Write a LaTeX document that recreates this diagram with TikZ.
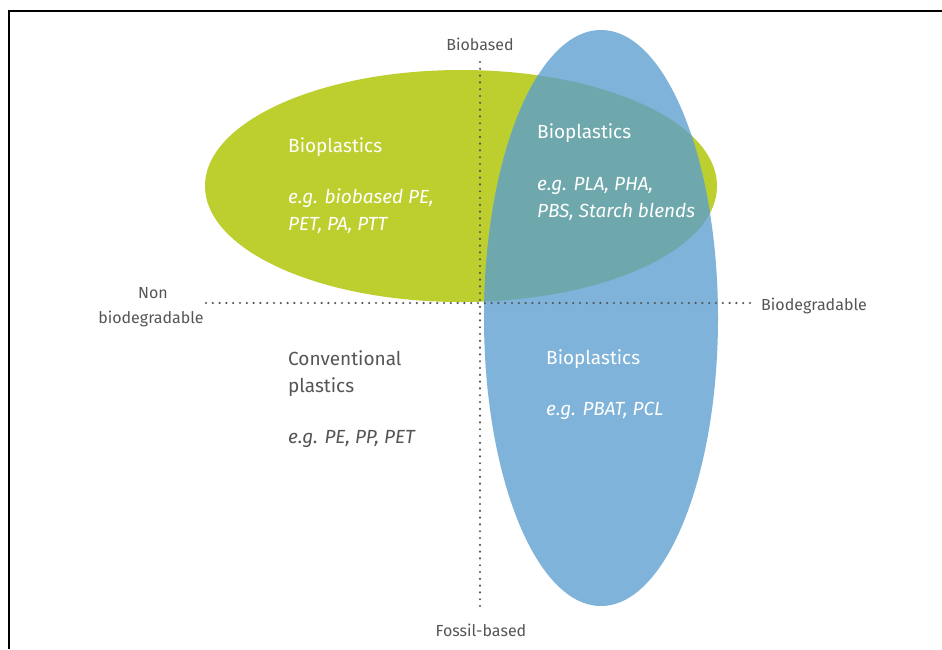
\documentclass[tikz,border=0pt]{standalone}
\usepackage{fontspec}
\setmainfont{Fira Sans}
\definecolor{leaf}{HTML}{BDCF2F}
\definecolor{sky}{HTML}{7FB3D9}
\definecolor{teal}{HTML}{6FA8AC}
\definecolor{ink}{HTML}{555555}
\begin{document}
\begin{tikzpicture}[x=1pt,y=-1pt,
  axisdots/.style={ink, line width=2.4pt, line cap=round, dash pattern=on 0pt off 6.8pt},
  axislabel/.style={ink, font=\fontsize{16}{20}\selectfont, inner sep=0pt, anchor=base},
  bodyline/.style={font=\fontsize{19}{24}\selectfont, anchor=base west, inner sep=0pt},
  frameline/.style={black, line width=2.4pt}]
\useasboundingbox (0,0) rectangle (942,649);
\fill[white] (0,0) rectangle (942,649);
% frame along the top and left edges
\coordinate (ftr) at (942,11);
\coordinate (ftl) at (9,11);
\coordinate (fbl) at (9,649);
\draw[frameline] (ftr) -- (ftl) -- (fbl);
% biobased ellipse and biodegradable ellipse
\fill[leaf] (461,186) ellipse [x radius=256, y radius=116];
\fill[sky] (601,318) ellipse [x radius=117, y radius=288];
\begin{scope}
  \clip (461,186) ellipse [x radius=256, y radius=116];
  \fill[teal] (601,318) ellipse [x radius=117, y radius=288];
\end{scope}
% axes
\coordinate (vtop) at (480,62);
\coordinate (vbot) at (480,606);
\coordinate (hleft) at (206,303);
\coordinate (hright) at (751,303);
\draw[axisdots] (vtop) -- (vbot);
\draw[axisdots] (hleft) -- (hright);
% axis labels
\node[axislabel] (biobased) at (480,50) {Biobased};
\node[axislabel] (fossil) at (481,636) {Fossil-based};
\node[axislabel, anchor=base west] (biodeg) at (761,310) {Biodegradable};
\node[axislabel] (non) at (153,298) {Non};
\node[axislabel] (nonbio) at (151,323) {biodegradable};
% biobased, non-biodegradable
\node[bodyline, white] (g1) at (288,152) {Bioplastics};
\node[bodyline, white] (g2) at (288,203) {\itshape e.g. biobased PE,};
\node[bodyline, white] (g3) at (288,230) {\itshape PET, PA, PTT};
% biobased, biodegradable
\node[bodyline, white] (t1) at (537,138) {Bioplastics};
\node[bodyline, white] (t2) at (537,190) {\itshape e.g. PLA, PHA,};
\node[bodyline, white] (t3) at (537,217) {\itshape PBS, Starch blends};
% fossil-based, biodegradable
\node[bodyline, white] (b1) at (546,364) {Bioplastics};
\node[bodyline, white] (b2) at (546,415) {\itshape e.g. PBAT, PCL};
% fossil-based, non-biodegradable
\node[bodyline, ink] (c1) at (288,365) {Conventional};
\node[bodyline, ink] (c2) at (288,392) {plastics};
\node[bodyline, ink] (c3) at (288,443) {\itshape e.g. PE, PP, PET};
\end{tikzpicture}
\end{document}
